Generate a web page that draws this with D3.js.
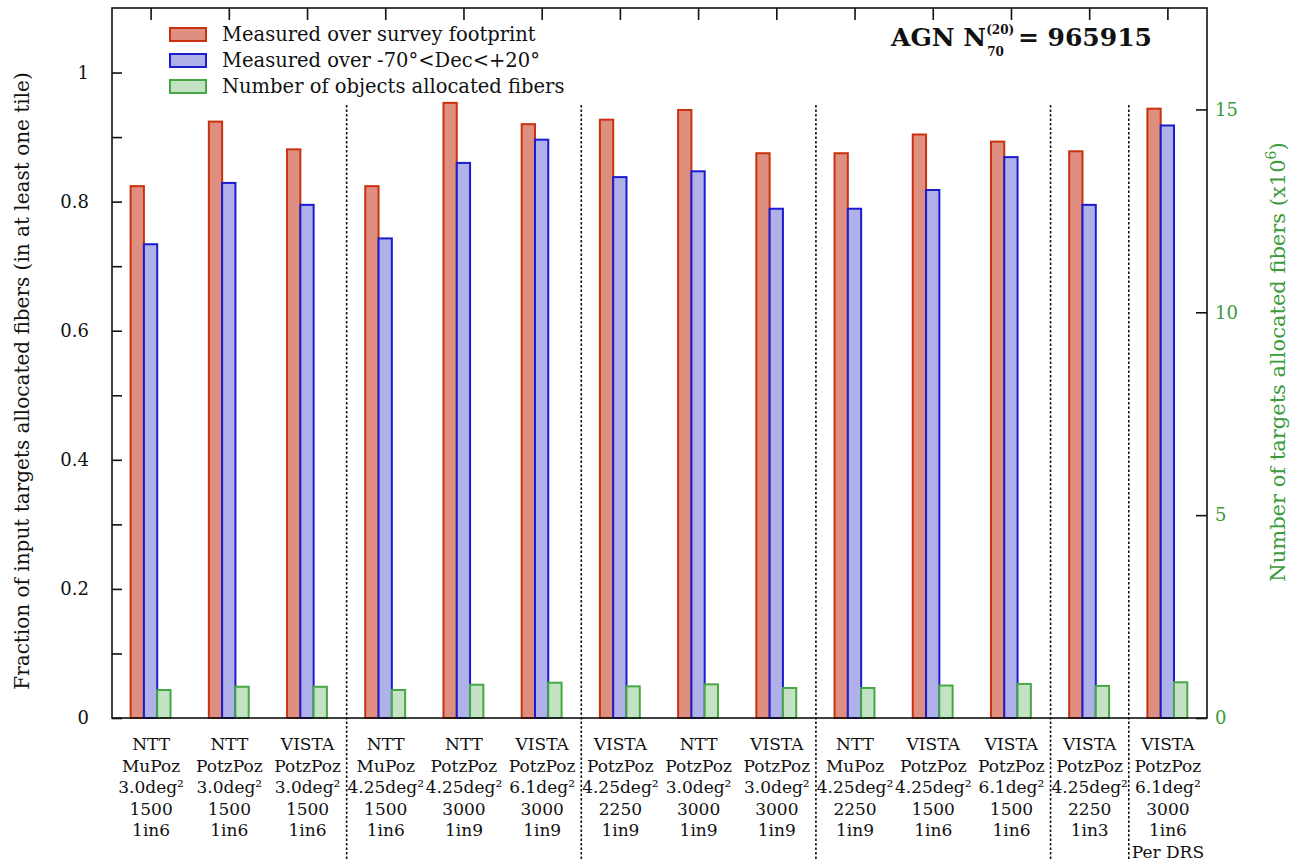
<!DOCTYPE html>
<html>
<head>
<meta charset="utf-8">
<script src="https://cdn.jsdelivr.net/npm/d3@7"></script>
<style>
  body { margin: 0; background: #fff; }
  svg { display: block; font-family: "DejaVu Serif", "Liberation Serif", serif; }
</style>
</head>
<body>
<div class="canvas"></div>
<script>
// configurations (one per group of bars), each line of the label below the axis
const configs = [
  ['NTT', 'MuPoz', '3.0deg²', '1500', '1in6'],
  ['NTT', 'PotzPoz', '3.0deg²', '1500', '1in6'],
  ['VISTA', 'PotzPoz', '3.0deg²', '1500', '1in6'],
  ['NTT', 'MuPoz', '4.25deg²', '1500', '1in6'],
  ['NTT', 'PotzPoz', '4.25deg²', '3000', '1in9'],
  ['VISTA', 'PotzPoz', '6.1deg²', '3000', '1in9'],
  ['VISTA', 'PotzPoz', '4.25deg²', '2250', '1in9'],
  ['NTT', 'PotzPoz', '3.0deg²', '3000', '1in9'],
  ['VISTA', 'PotzPoz', '3.0deg²', '3000', '1in9'],
  ['NTT', 'MuPoz', '4.25deg²', '2250', '1in9'],
  ['VISTA', 'PotzPoz', '4.25deg²', '1500', '1in6'],
  ['VISTA', 'PotzPoz', '6.1deg²', '1500', '1in6'],
  ['VISTA', 'PotzPoz', '4.25deg²', '2250', '1in3'],
  ['VISTA', 'PotzPoz', '6.1deg²', '3000', '1in6', 'Per DRS']
];

// fraction allocated, measured over the survey footprint
const footprint = [0.824, 0.924, 0.881, 0.824, 0.953, 0.920, 0.927, 0.942, 0.875, 0.875, 0.904, 0.893, 0.878, 0.944];
// fraction allocated, measured over -70<Dec<+20
const decCut = [0.734, 0.829, 0.795, 0.743, 0.860, 0.896, 0.838, 0.847, 0.789, 0.789, 0.818, 0.869, 0.795, 0.918];
// number of objects allocated fibers (x10^6, right axis)
const allocated = [0.69, 0.77, 0.77, 0.69, 0.82, 0.87, 0.78, 0.83, 0.74, 0.74, 0.80, 0.84, 0.79, 0.88];

// groups where a new block starts (dotted separators)
const blockStarts = [3, 6, 9, 12, 13];

const leftTicks = [0, 0.1, 0.2, 0.3, 0.4, 0.5, 0.6, 0.7, 0.8, 0.9, 1.0];
const leftLabels = ['0', '0.2', '0.4', '0.6', '0.8', '1'];
const rightTicks = [0, 5, 10, 15];

const legendNames = ['Measured over survey footprint', 'Measured over -70°<Dec<+20°', 'Number of objects allocated fibers'];

const fills = ['#df8f7f', '#b1b1ea', '#c4e3c4'];
const strokes = ['#c9320f', '#1b1bcf', '#45a845'];
const green = '#3a9c3a';

const width = 1303, height = 861;
const margin = { top: 8, right: 96, bottom: 143, left: 112 };
const plotW = width - margin.left - margin.right;
const plotH = height - margin.top - margin.bottom;

const svg = d3.select('.canvas')
  .append('svg')
  .attr('width', width)
  .attr('height', height);

svg.append('rect').attr('width', width).attr('height', height).attr('fill', '#fff');

const graph = svg.append('g')
  .attr('transform', `translate(${margin.left}, ${margin.top})`);

// scales
const x = d3.scaleBand()
  .domain(d3.range(configs.length))
  .range([0, plotW]);
const bw = x.bandwidth();
const sub = d3.scaleBand()
  .domain([0, 1, 2])
  .range([-bw * 0.262, bw * 0.248]);

const y = d3.scaleLinear().domain([0, 1.1]).range([plotH, 0]);
const y2 = d3.scaleLinear().domain([0, 17.5]).range([plotH, 0]);

// bars
const series = [
  { vals: footprint, scale: y },
  { vals: decCut, scale: y },
  { vals: allocated, scale: y2 }
];

series.forEach((s, si) => {
  graph.append('g').selectAll('rect')
    .data(s.vals)
    .enter()
    .append('rect')
    .attr('x', (d, i) => x(i) + bw / 2 + sub(si))
    .attr('width', sub.bandwidth())
    .attr('y', d => s.scale(d))
    .attr('height', d => plotH - s.scale(d))
    .attr('fill', fills[si])
    .attr('stroke', strokes[si])
    .attr('stroke-width', 2);
});

// dotted separators
graph.append('g').selectAll('line')
  .data(blockStarts)
  .enter()
  .append('line')
  .attr('x1', d => x(d)).attr('x2', d => x(d))
  .attr('y1', 97).attr('y2', height - margin.top)
  .attr('stroke', '#111')
  .attr('stroke-width', 1.6)
  .attr('stroke-dasharray', '2.5,2');

// frame
graph.append('rect')
  .attr('width', plotW).attr('height', plotH)
  .attr('fill', 'none').attr('stroke', '#111').attr('stroke-width', 1.6);

// left axis (ticks inside)
const yAxis = d3.axisLeft(y).tickValues(leftTicks).tickSize(-10).tickPadding(12)
  .tickFormat(d => {
    const s = d3.format('.1f')(d);
    if (d === 0) return '0';
    if (d === 1) return '1';
    return leftLabels.includes(s) ? s : '';
  });
const yAxisGroup = graph.append('g').call(yAxis);
yAxisGroup.select('.domain').remove();
yAxisGroup.selectAll('line').attr('stroke', '#111').attr('stroke-width', 1.6);
yAxisGroup.selectAll('text')
  .attr('font-family', 'DejaVu Serif').attr('font-size', 18).attr('fill', '#111')
  .attr('x', -23);

// right axis (green)
const y2Axis = d3.axisRight(y2).tickValues(rightTicks).tickSize(-11).tickPadding(8);
const y2AxisGroup = graph.append('g').attr('transform', `translate(${plotW}, 0)`).call(y2Axis);
y2AxisGroup.select('.domain').remove();
y2AxisGroup.selectAll('line').attr('stroke', '#111').attr('stroke-width', 1.6);
y2AxisGroup.selectAll('text')
  .attr('font-family', 'DejaVu Serif').attr('font-size', 18).attr('fill', green)
  .attr('x', 8);

// top ticks at group centres
const xTop = d3.axisTop(x).tickSize(-12).tickFormat('');
const xTopGroup = graph.append('g').call(xTop);
xTopGroup.select('.domain').remove();
xTopGroup.selectAll('line').attr('stroke', '#111').attr('stroke-width', 1.6);

// category labels below
const labelGroup = graph.append('g').attr('transform', `translate(0, ${plotH})`);
configs.forEach((lines, i) => {
  const t = labelGroup.append('text')
    .attr('text-anchor', 'middle')
    .attr('font-size', 17)
    .attr('fill', '#111')
    .attr('y', 32);
  lines.forEach((ln, j) => {
    t.append('tspan')
      .attr('x', x(i) + bw / 2)
      .attr('dy', j === 0 ? 0 : 21.5)
      .text(ln);
  });
});

// axis titles
svg.append('text')
  .attr('transform', `translate(29, 381) rotate(-90)`)
  .attr('text-anchor', 'middle')
  .attr('font-size', 20)
  .attr('fill', '#111')
  .text('Fraction of input targets allocated fibers (in at least one tile)');

const rTitle = svg.append('text')
  .attr('transform', `translate(1285, 362) rotate(-90)`)
  .attr('text-anchor', 'middle')
  .attr('font-size', 21)
  .attr('fill', green);
rTitle.append('tspan').text('Number of targets allocated fibers (x10');
rTitle.append('tspan').attr('font-size', 14).attr('dy', -9).text('6');
rTitle.append('tspan').attr('dy', 9).text(')');

// legend
const legend = svg.append('g').attr('transform', 'translate(170, 28)');
legendNames.forEach((name, i) => {
  const row = legend.append('g').attr('transform', `translate(0, ${i * 26})`);
  row.append('rect')
    .attr('width', 36).attr('height', 13)
    .attr('fill', fills[i]).attr('stroke', strokes[i]).attr('stroke-width', 2);
  row.append('text')
    .attr('x', 52).attr('y', 13)
    .attr('font-size', 19.5)
    .attr('fill', '#111')
    .text(name);
});

// title
const title = svg.append('text')
  .attr('x', 891).attr('y', 46)
  .attr('font-weight', 'bold')
  .attr('font-size', 25)
  .attr('fill', '#111');
title.append('tspan').text('AGN  N');
title.append('tspan').attr('font-size', 12).attr('dy', -12).text('(20)');
title.append('tspan').attr('font-size', 12).attr('dx', -27).attr('dy', 22).text('70');
title.append('tspan').attr('dx', 14).attr('dy', -10).text('= 965915');
</script>
</body>
</html>
